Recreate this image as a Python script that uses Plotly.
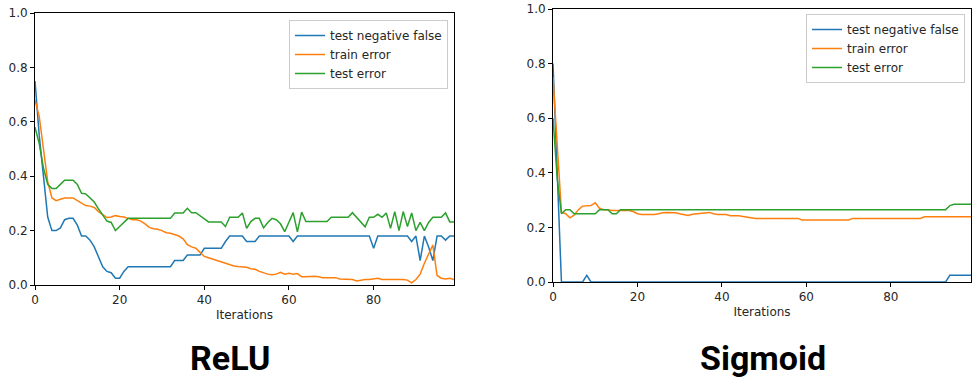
import plotly.graph_objects as go

# iterations 0..99
iterations = list(range(100))

# ReLU run
relu_test_neg_false = [
    0.75, 0.55, 0.40, 0.25, 0.20, 0.20, 0.21, 0.24, 0.245, 0.245,
    0.22, 0.18, 0.18, 0.165, 0.14, 0.10, 0.067, 0.05, 0.045, 0.025,
    0.025, 0.05, 0.067, 0.067, 0.067, 0.067, 0.067, 0.067, 0.067, 0.067,
    0.067, 0.067, 0.067, 0.09, 0.09, 0.09, 0.11, 0.11, 0.11, 0.11,
    0.135, 0.135, 0.135, 0.135, 0.135, 0.16, 0.18, 0.18, 0.18, 0.18,
    0.16, 0.16, 0.16, 0.18, 0.18, 0.18, 0.18, 0.18, 0.18, 0.18,
    0.18, 0.16, 0.18, 0.18, 0.18, 0.18, 0.18, 0.18, 0.18, 0.18,
    0.18, 0.18, 0.18, 0.18, 0.18, 0.18, 0.18, 0.18, 0.18, 0.18,
    0.135, 0.18, 0.18, 0.18, 0.18, 0.18, 0.18, 0.18, 0.18, 0.16,
    0.18, 0.09, 0.18, 0.14, 0.09, 0.18, 0.18, 0.165, 0.18, 0.18,
]
relu_train_err = [
    0.68, 0.62, 0.50, 0.38, 0.32, 0.31, 0.315, 0.32, 0.32, 0.32,
    0.31, 0.30, 0.292, 0.29, 0.285, 0.27, 0.258, 0.248, 0.25, 0.255,
    0.252, 0.25, 0.245, 0.24, 0.24, 0.235, 0.225, 0.212, 0.207, 0.205,
    0.20, 0.192, 0.19, 0.186, 0.18, 0.17, 0.148, 0.14, 0.135, 0.12,
    0.105, 0.10, 0.095, 0.09, 0.085, 0.08, 0.075, 0.07, 0.068, 0.067,
    0.065, 0.06, 0.058, 0.05, 0.045, 0.04, 0.038, 0.04, 0.047, 0.04,
    0.043, 0.04, 0.042, 0.03, 0.03, 0.032, 0.032, 0.03, 0.027, 0.027,
    0.027, 0.027, 0.022, 0.022, 0.02, 0.02, 0.015, 0.018, 0.02, 0.02,
    0.022, 0.025, 0.02, 0.02, 0.022, 0.02, 0.022, 0.02, 0.018, 0.008,
    0.02, 0.04, 0.08, 0.115, 0.147, 0.035, 0.025, 0.022, 0.025, 0.02,
]
relu_test_err = [
    0.58, 0.52, 0.43, 0.37, 0.355, 0.355, 0.37, 0.385, 0.385, 0.385,
    0.37, 0.337, 0.335, 0.32, 0.305, 0.28, 0.258, 0.235, 0.23, 0.20,
    0.215, 0.23, 0.245, 0.245, 0.245, 0.245, 0.245, 0.245, 0.245, 0.245,
    0.245, 0.245, 0.245, 0.265, 0.265, 0.265, 0.282, 0.266, 0.266, 0.255,
    0.245, 0.232, 0.232, 0.232, 0.232, 0.215, 0.249, 0.249, 0.249, 0.265,
    0.208, 0.233, 0.245, 0.245, 0.21, 0.23, 0.245, 0.24, 0.225, 0.196,
    0.23, 0.266, 0.195, 0.268, 0.233, 0.233, 0.233, 0.233, 0.233, 0.233,
    0.249, 0.249, 0.249, 0.249, 0.249, 0.266, 0.249, 0.235, 0.214, 0.249,
    0.249, 0.26, 0.249, 0.265, 0.208, 0.27, 0.20, 0.27, 0.215, 0.265,
    0.20, 0.23, 0.20, 0.23, 0.249, 0.249, 0.249, 0.265, 0.232, 0.232,
]

# Sigmoid run
sig_test_neg_false = [
    0.80, 0.38, 0.0, 0.0, 0.0, 0.0, 0.0, 0.0, 0.024, 0.0,
    0.0, 0.0, 0.0, 0.0, 0.0, 0.0, 0.0, 0.0, 0.0, 0.0,
    0.0, 0.0, 0.0, 0.0, 0.0, 0.0, 0.0, 0.0, 0.0, 0.0,
    0.0, 0.0, 0.0, 0.0, 0.0, 0.0, 0.0, 0.0, 0.0, 0.0,
    0.0, 0.0, 0.0, 0.0, 0.0, 0.0, 0.0, 0.0, 0.0, 0.0,
    0.0, 0.0, 0.0, 0.0, 0.0, 0.0, 0.0, 0.0, 0.0, 0.0,
    0.0, 0.0, 0.0, 0.0, 0.0, 0.0, 0.0, 0.0, 0.0, 0.0,
    0.0, 0.0, 0.0, 0.0, 0.0, 0.0, 0.0, 0.0, 0.0, 0.0,
    0.0, 0.0, 0.0, 0.0, 0.0, 0.0, 0.0, 0.0, 0.0, 0.0,
    0.0, 0.0, 0.0, 0.0, 0.025, 0.025, 0.025, 0.025, 0.025, 0.025,
]
sig_train_err = [
    0.75, 0.52, 0.255, 0.25, 0.235, 0.245, 0.265, 0.278, 0.28, 0.28,
    0.29, 0.27, 0.265, 0.265, 0.262, 0.262, 0.262, 0.262, 0.262, 0.258,
    0.25, 0.247, 0.247, 0.247, 0.247, 0.25, 0.254, 0.255, 0.255, 0.254,
    0.25, 0.248, 0.244, 0.248, 0.25, 0.25, 0.252, 0.255, 0.25, 0.247,
    0.247, 0.247, 0.243, 0.243, 0.243, 0.24, 0.237, 0.235, 0.233, 0.233,
    0.233, 0.233, 0.233, 0.233, 0.233, 0.233, 0.233, 0.233, 0.233, 0.227,
    0.227, 0.227, 0.227, 0.227, 0.227, 0.227, 0.227, 0.227, 0.227, 0.227,
    0.227, 0.233, 0.233, 0.233, 0.233, 0.233, 0.233, 0.233, 0.233, 0.233,
    0.233, 0.233, 0.233, 0.233, 0.233, 0.233, 0.233, 0.233, 0.239, 0.239,
    0.239, 0.239, 0.239, 0.239, 0.239, 0.239, 0.239, 0.239, 0.239, 0.239,
]
sig_test_err = [
    0.60, 0.38, 0.25, 0.265, 0.265, 0.25, 0.25, 0.25, 0.25, 0.25,
    0.25, 0.265, 0.265, 0.265, 0.25, 0.25, 0.265, 0.265, 0.265, 0.265,
    0.265, 0.265, 0.265, 0.265, 0.265, 0.265, 0.265, 0.265, 0.265, 0.265,
    0.265, 0.265, 0.265, 0.265, 0.265, 0.265, 0.265, 0.265, 0.265, 0.265,
    0.265, 0.265, 0.265, 0.265, 0.265, 0.265, 0.265, 0.265, 0.265, 0.265,
    0.265, 0.265, 0.265, 0.265, 0.265, 0.265, 0.265, 0.265, 0.265, 0.265,
    0.265, 0.265, 0.265, 0.265, 0.265, 0.265, 0.265, 0.265, 0.265, 0.265,
    0.265, 0.265, 0.265, 0.265, 0.265, 0.265, 0.265, 0.265, 0.265, 0.265,
    0.265, 0.265, 0.265, 0.265, 0.265, 0.265, 0.265, 0.265, 0.265, 0.265,
    0.265, 0.265, 0.265, 0.265, 0.28, 0.285, 0.285, 0.285, 0.285, 0.285,
]

series_names = ["test negative false", "train error", "test error"]
colors = ["#1f77b4", "#ff7f0e", "#2ca02c"]

fig = go.Figure()

# left panel (ReLU)
for name, ys, c in zip(series_names, [relu_test_neg_false, relu_train_err, relu_test_err], colors):
    fig.add_trace(go.Scatter(x=iterations, y=ys, mode="lines", name=name,
                             line=dict(color=c, width=1.5), xaxis="x", yaxis="y",
                             legend="legend"))

# right panel (Sigmoid)
for name, ys, c in zip(series_names, [sig_test_neg_false, sig_train_err, sig_test_err], colors):
    fig.add_trace(go.Scatter(x=iterations, y=ys, mode="lines", name=name,
                             line=dict(color=c, width=1.5), xaxis="x2", yaxis="y2",
                             legend="legend2"))

W, H = 976, 391
tickfont = dict(family="DejaVu Sans", size=12, color="#262626")

def xax(dom, anchor):
    return dict(domain=dom, anchor=anchor, range=[0, 99], tickvals=[0, 20, 40, 60, 80],
                showline=True, mirror=True, linecolor="black", linewidth=1,
                ticks="outside", ticklen=4, tickcolor="black", showgrid=False,
                zeroline=False, tickfont=tickfont, automargin=False,
                title=dict(text="Iterations", font=tickfont, standoff=4))

def yax(dom, anchor):
    return dict(domain=dom, anchor=anchor, range=[0, 1], tickvals=[0, 0.2, 0.4, 0.6, 0.8, 1.0],
                tickformat=".1f", showline=True, mirror=True, linecolor="black", linewidth=1,
                ticks="outside", ticklen=4, tickcolor="black", showgrid=False,
                zeroline=False, tickfont=tickfont, automargin=False)

legend_style = dict(bgcolor="rgba(255,255,255,0.8)", bordercolor="#cccccc", borderwidth=1,
                    font=dict(family="DejaVu Sans", size=12, color="#262626"),
                    xanchor="right", yanchor="top", tracegroupgap=0)

title_font = dict(family="Roboto", size=34, color="black")

fig.update_layout(
    width=W, height=H,
    margin=dict(l=0, r=0, t=0, b=0, autoexpand=False),
    paper_bgcolor="white", plot_bgcolor="white",
    xaxis=xax([35 / W, 454 / W], "y"),
    yaxis=yax([(H - 285) / H, (H - 13) / H], "x"),
    xaxis2=xax([553 / W, 971 / W], "y2"),
    yaxis2=yax([(H - 282) / H, (H - 9) / H], "x2"),
    legend=dict(x=448 / W, y=(H - 20) / H, **legend_style),
    legend2=dict(x=965 / W, y=(H - 14) / H, **legend_style),
    annotations=[
        dict(text="<b>ReLU</b>", x=230 / W, y=(H - 358) / H, xref="paper", yref="paper",
             xanchor="center", yanchor="middle", showarrow=False, font=title_font),
        dict(text="<b>Sigmoid</b>", x=763 / W, y=(H - 358) / H, xref="paper", yref="paper",
             xanchor="center", yanchor="middle", showarrow=False, font=title_font),
    ],
)

# page body has a default 8px margin, drop it so the figure sits at 0,0
fig.write_html("out.html", config={"displayModeBar": False},
               post_script="document.body.style.margin='0';")
